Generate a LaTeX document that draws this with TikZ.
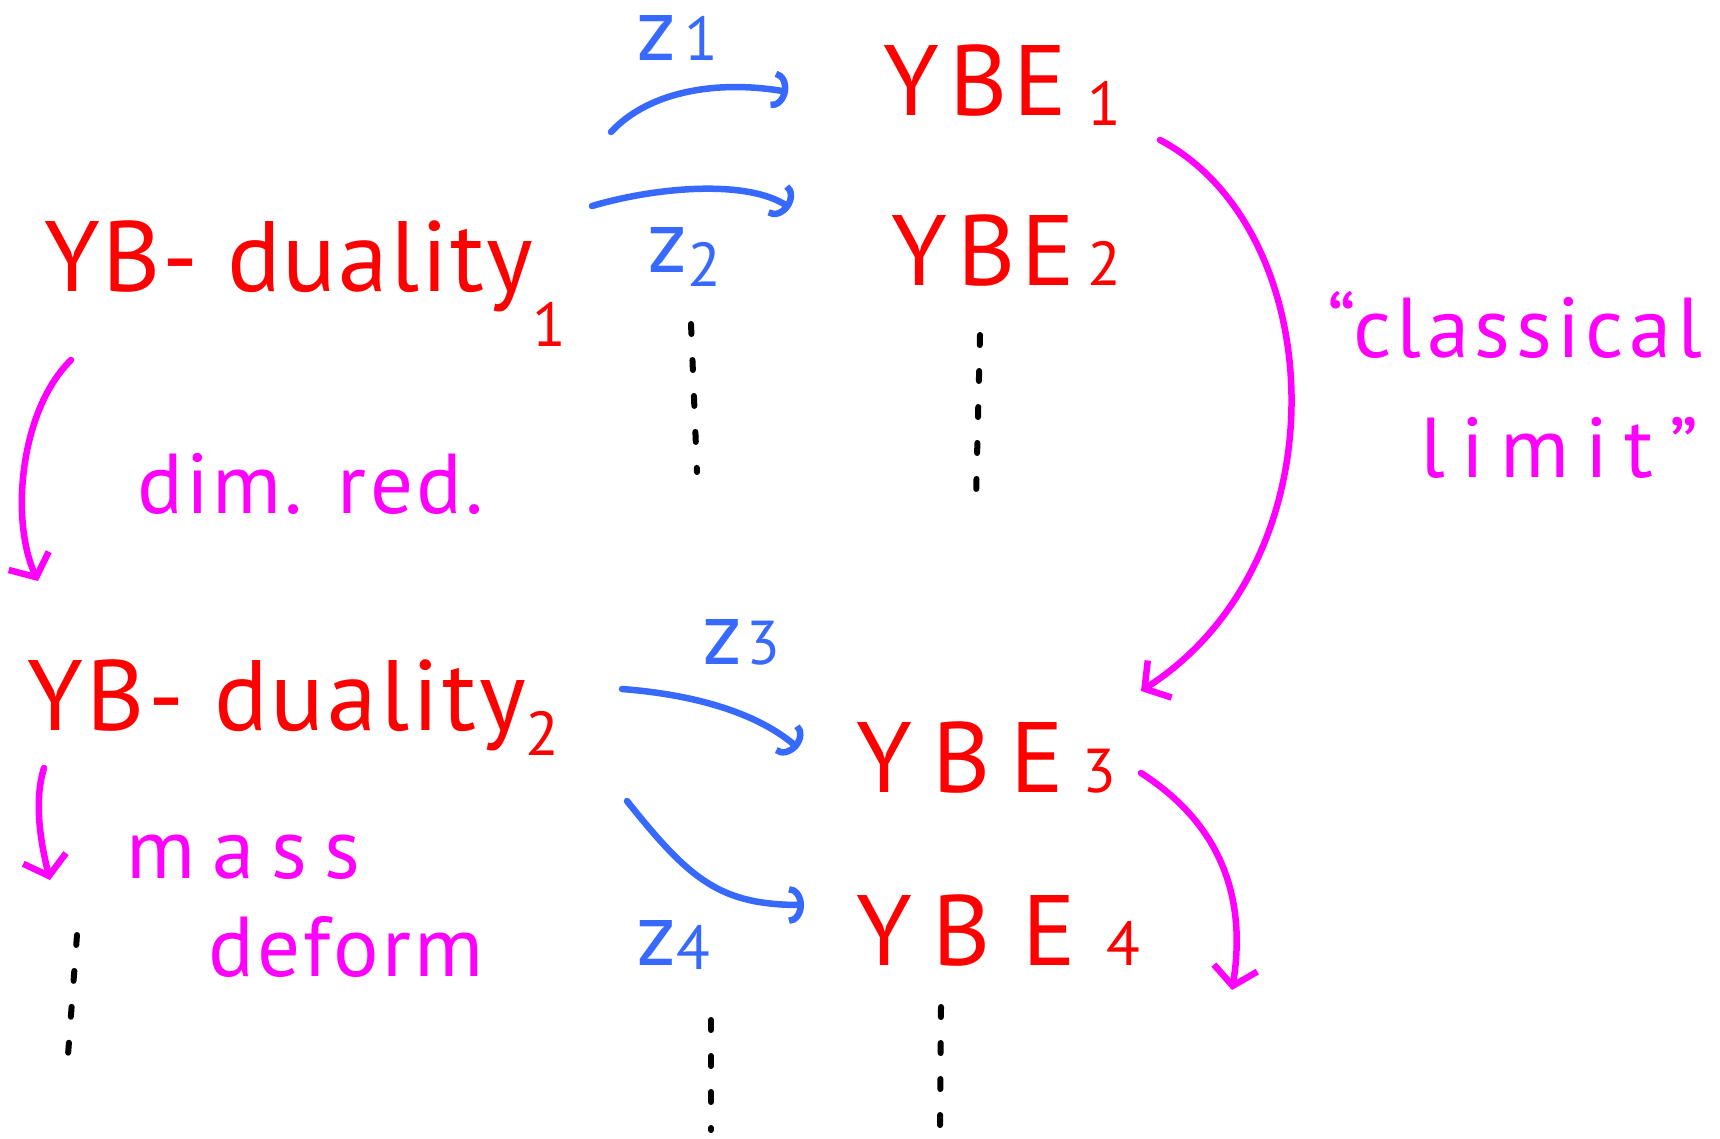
\documentclass[tikz,border=0pt]{standalone}
\usepackage{fontspec}
\setmainfont{PT Sans}
\usetikzlibrary{arrows.meta}
\definecolor{hred}{RGB}{255,0,0}
\definecolor{hmag}{RGB}{255,0,255}
\definecolor{hblue}{RGB}{55,105,255}
\newcommand\lo[2]{\raisebox{-#1pt}{\fontsize{62}{62}\selectfont #2}}
\newcommand\ls[1]{\addfontfeature{LetterSpace=#1}}
\begin{document}
\begin{tikzpicture}[x=1pt,y=-1pt,
  redlbl/.style={text=hred, anchor=base west, inner sep=0pt, font=\fontsize{100}{100}\selectfont},
  maglbl/.style={text=hmag, anchor=base west, inner sep=0pt, font=\fontsize{85}{85}\selectfont},
  bluelbl/.style={text=hblue, anchor=base west, inner sep=0pt, font=\fontsize{90}{90}\selectfont},
  bluearr/.style={draw=hblue, line width=6.5pt, line cap=round, -{Arc Barb[length=15pt,width=38pt]}},
  magarr/.style={draw=hmag, line width=6.5pt, line cap=round, -{Straight Barb[length=18pt,width=44pt]}},
  dotcol/.style={draw=black, line width=6pt, line cap=round, dash pattern=on 10pt off 26pt}]
\useasboundingbox[fill=white] (0,0) rectangle (1720,1138);
% red nodes
\node[redlbl] (dual1) at (44,291) {\ls{2}YB- duality\lo{55}{1}};
\node[redlbl] (ybe1) at (883,115) {Y\kern10pt B\kern6pt E\kern20pt\lo{10}{1}};
\node[redlbl] (ybe2) at (891,285) {Y\kern10pt B\kern6pt E\kern12pt\lo{0}{2}};
\node[redlbl] (dual2) at (27,730) {\ls{3}YB\kern4pt- duality\lo{25}{2}};
\node[redlbl] (ybe3) at (856,792) {Y\kern20pt B\kern20pt E\kern18pt\lo{0}{3}};
\node[redlbl] (ybe4) at (856,965) {Y\kern20pt B\kern32pt E\kern30pt\lo{0}{4}};
% blue labels
\node[bluelbl, text height=48pt] (z1) at (636,60) {z\kern8pt\lo{0}{1}};
\node[bluelbl] (z2) at (647,272) {z\lo{14}{2}};
\node[bluelbl] (z3) at (702,664) {z\kern4pt\lo{0}{3}};
\node[bluelbl] (z4) at (636,965) {z\lo{4}{4}};
% magenta labels
\node[maglbl] (dimred) at (137,513) {\ls{4}dim. red.};
\node[maglbl] (mass) at (126,878) {m\kern17pt a\kern17pt s\kern17pt s};
\node[maglbl] (deform) at (208,976) {\ls{4}deform};
\node[maglbl] (classical) at (1327,357) {\ls{6.5}“classical};
\node[maglbl] (limit) at (1420,477) {\ls{19}limit”};
% arrow end points
\coordinate (a1s) at (611,132); \coordinate (a1e) at (788,92);
\coordinate (a2s) at (592,206); \coordinate (a2e) at (790,208);
\coordinate (a3s) at (622,689); \coordinate (a3e) at (798,748);
\coordinate (a4s) at (627,801); \coordinate (a4e) at (804,905);
\coordinate (cls) at (1160,140); \coordinate (cle) at (1141,691);
\coordinate (drs) at (71,360); \coordinate (dre) at (38,581);
\coordinate (mds) at (44,768); \coordinate (mde) at (50,880);
\coordinate (y34s) at (1141,773); \coordinate (y34e) at (1232,990);
% blue arrows
\draw[bluearr] (a1s) .. controls (650,90) and (720,80) .. (a1e);
\draw[bluearr] (a2s) .. controls (660,186) and (750,180) .. (a2e);
\draw[bluearr] (a3s) .. controls (700,695) and (760,715) .. (a3e);
\draw[bluearr] (a4s) .. controls (690,880) and (720,905) .. (a4e);
% magenta arrows
\draw[magarr] (cls) .. controls (1330,230) and (1345,560) .. (cle);
\draw[magarr] (drs) .. controls (20,410) and (10,520) .. (dre);
\draw[magarr] (mds) .. controls (34,800) and (40,840) .. (mde);
\draw[magarr] (y34s) .. controls (1230,830) and (1245,910) .. (y34e);
% vertical dots
\coordinate (d1a) at (691,324); \coordinate (d1b) at (697,472);
\coordinate (d2a) at (980,335); \coordinate (d2b) at (976,499);
\coordinate (d3a) at (77,935); \coordinate (d3b) at (68,1055);
\coordinate (d4a) at (711,1020); \coordinate (d4b) at (711,1130);
\coordinate (d5a) at (941,1007); \coordinate (d5b) at (940,1130);
\draw[dotcol] (d1a) -- (d1b);
\draw[dotcol] (d2a) -- (d2b);
\draw[dotcol] (d3a) -- (d3b);
\draw[dotcol] (d4a) -- (d4b);
\draw[dotcol] (d5a) -- (d5b);
\end{tikzpicture}
\end{document}
